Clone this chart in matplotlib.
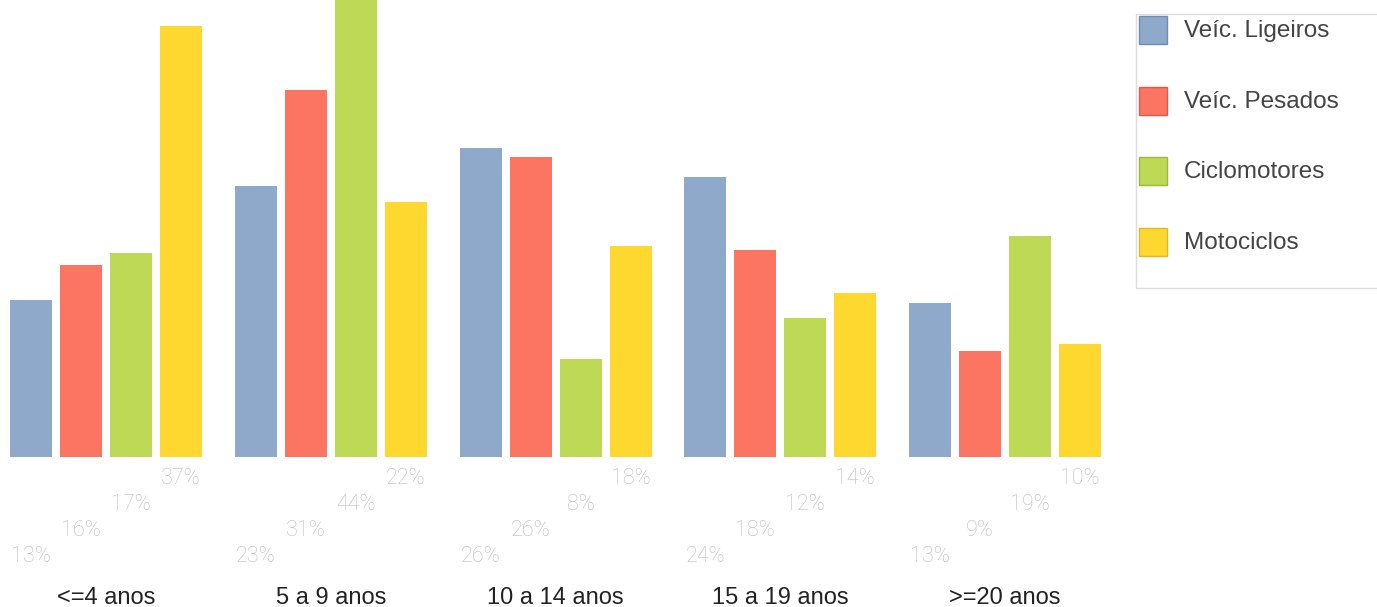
import matplotlib
matplotlib.use("Agg")
import matplotlib.pyplot as plt
from matplotlib.patches import Rectangle
import numpy as np

categories = ["<=4 anos", "5 a 9 anos", "10 a 14 anos", "15 a 19 anos", ">=20 anos"]
series_names = ["Veíc. Ligeiros", "Veíc. Pesados", "Ciclomotores", "Motociclos"]
ligeiros = [13.4, 23.2, 26.4, 23.9, 13.2]
pesados = [16.4, 31.4, 25.6, 17.7, 9.1]
ciclomotores = [17.4, 44.0, 8.4, 11.9, 18.9]
motociclos = [36.8, 21.8, 18.0, 14.0, 9.7]
series = [ligeiros, pesados, ciclomotores, motociclos]
colors = ["#8EA9C9", "#FC7462", "#BDD955", "#FED82F"]
edge_colors = ["#6F8DB3", "#E05A48", "#9BB83A", "#E0B820"]

W, H = 1377, 607
fig = plt.figure(figsize=(W / 100, H / 100), dpi=100)

base_px = 457
gstep = 224.75
ax = fig.add_axes([0, (H - base_px) / H, 1120 / W, base_px / H])
ax.set_xlim(-106 / gstep, (1120 - 106) / gstep)
ax.set_ylim(0, base_px / 11.7)
ax.axis("off")

x = np.arange(len(categories))
step = 50 / gstep
width = 42 / gstep
for j, (vals, c) in enumerate(zip(series, colors)):
    xs = x + (j - 1.5) * step
    ax.bar(xs, vals, width=width, color=c, edgecolor="none", clip_on=True)
    for xi, v in zip(xs, vals):
        ax.annotate(f"{v:.0f}%", xy=(xi, 0), xytext=(0, -(22 + (3 - j) * 26)),
                    textcoords="offset pixels", ha="center", va="center",
                    fontsize=15.5, color="#BDBDBD", family="Roboto", fontweight="light",
                    annotation_clip=False)

for xi, cat in zip(x, categories):
    ax.annotate(cat, xy=(xi, 0), xytext=(0, -141), textcoords="offset pixels",
                ha="center", va="center", fontsize=17, color="#222222",
                family="Liberation Sans", annotation_clip=False)

# legend
lax = fig.add_axes([0, 0, 1, 1])
lax.set_xlim(0, W)
lax.set_ylim(H, 0)
lax.axis("off")
lax.add_patch(Rectangle((1135.5, 13.5), 260, 274, facecolor="white",
                        edgecolor="#DDDDDD", linewidth=1))
for k, (name, c, ec) in enumerate(zip(series_names, colors, edge_colors)):
    y0 = 16 + k * 70.5
    lax.add_patch(Rectangle((1139, y0), 28, 28, facecolor=c, edgecolor=ec, linewidth=1))
    lax.text(1184, y0 + 15.5, name, ha="left", va="center", fontsize=17.5,
             color="#444444", family="Liberation Sans")

fig.savefig("out.png", dpi=100)
